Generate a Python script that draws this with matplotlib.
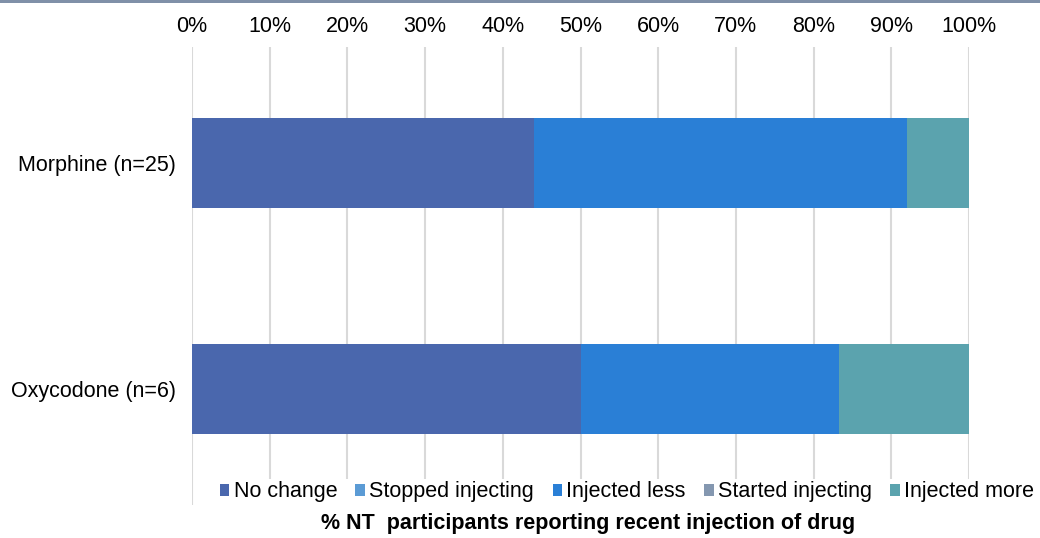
import matplotlib
matplotlib.use('Agg')
import matplotlib.pyplot as plt
from matplotlib.patches import Rectangle

plt.rcParams['font.family'] = ['Liberation Sans', 'DejaVu Sans']

# ---- data ----
drugs = ['Morphine (n=25)', 'Oxycodone (n=6)']
categories = ['No change', 'Stopped injecting', 'Injected less', 'Started injecting', 'Injected more']
no_change = [44.0, 50.0]
stopped = [0.0, 0.0]
injected_less = [48.0, 33.3]
started = [0.0, 0.0]
injected_more = [8.0, 16.7]
series = [no_change, stopped, injected_less, started, injected_more]
colors = ['#4A67AD', '#5B9BD5', '#2A7FD6', '#8497B0', '#5BA3AE']
ticks = list(range(0, 101, 10))

fig = plt.figure(figsize=(10.4, 5.38), dpi=100)
ax = fig.add_axes([192/1040, 1 - 505/538, (969-192)/1040, (505-47)/538])

ypos = list(range(len(drugs)))
left = [0.0] * len(drugs)
for name, vals, c in zip(categories, series, colors):
    ax.barh(ypos, vals, left=left, height=0.4, color=c, label=name, zorder=3)
    left = [l + v for l, v in zip(left, vals)]

ax.set_xlim(0, 100)
ax.set_ylim(1.513, -0.513)
ax.set_yticks(ypos)
ax.set_yticklabels(drugs, fontsize=15.5)
ax.set_xticks(ticks)
ax.set_xticklabels(['%d%%' % t for t in ticks], fontsize=15.5)
ax.xaxis.tick_top()
ax.tick_params(axis='y', length=0, pad=11.5)
ax.tick_params(axis='x', length=0, pad=7.5)
ax.grid(axis='x', color='#D9D9D9', lw=1.5, zorder=0)
for s in ax.spines.values():
    s.set_visible(False)

leg = fig.legend(loc='center', bbox_to_anchor=(627/1040, 1 - 492/538), ncol=5,
                 frameon=True, fontsize=15.5, handlelength=0.45, handleheight=0.45,
                 handletextpad=0.2, columnspacing=0.85, borderpad=0.1)
leg.get_frame().set_facecolor('white')
leg.get_frame().set_edgecolor('none')
leg.get_frame().set_alpha(1)

fig.text(588/1040, 1 - 523/538, '% NT  participants reporting recent injection of drug',
         ha='center', va='center', fontsize=15.5, fontweight='bold')

# thin band along the top edge
fig.add_artist(Rectangle((0, 1 - 3/538), 1, 3/538, transform=fig.transFigure,
                         color='#8090A8', lw=0))

fig.savefig('out.png', dpi=100)
